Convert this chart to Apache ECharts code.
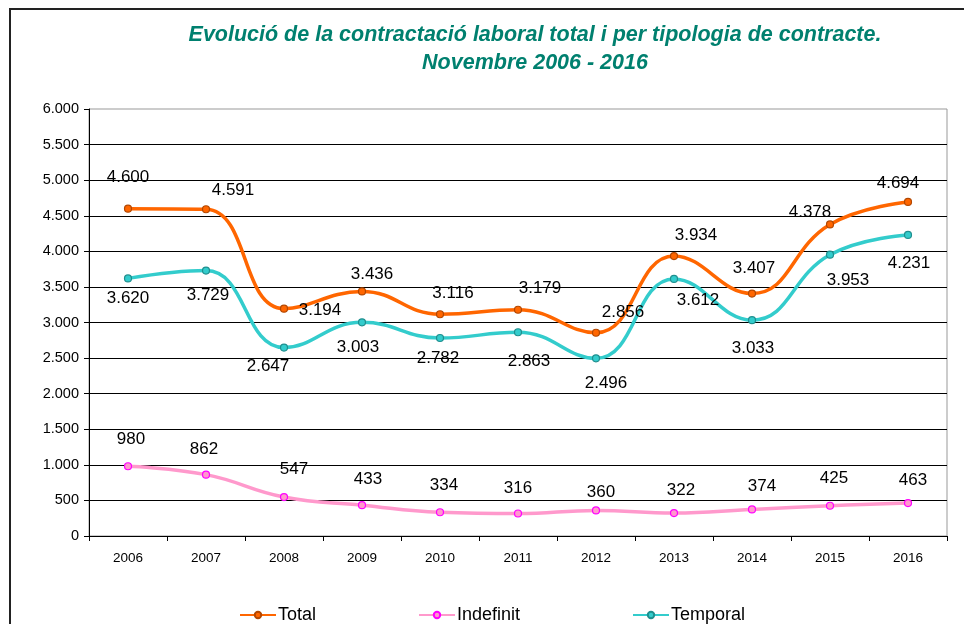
<!DOCTYPE html>
<html>
<head>
<meta charset="utf-8">
<script src="https://cdn.jsdelivr.net/npm/echarts@6/dist/echarts.min.js"></script>
<style>
html, body { margin: 0; padding: 0; background: #fff; }
#chart { width: 964px; height: 624px; }
</style>
</head>
<body>
<div id="chart"></div>
<script>
// anys (eix x)
var years = ['2006', '2007', '2008', '2009', '2010', '2011', '2012', '2013', '2014', '2015', '2016'];

// valors de cada serie
var total = [4600, 4591, 3194, 3436, 3116, 3179, 2856, 3934, 3407, 4378, 4694];
var indefinit = [980, 862, 547, 433, 334, 316, 360, 322, 374, 425, 463];
var temporal = [3620, 3729, 2647, 3003, 2782, 2863, 2496, 3612, 3033, 3953, 4231];

// desplacament de les etiquetes respecte al punt (com a l'Excel original)
var totalOff = [[0, -31], [27, -19], [36, 2], [10, -17], [13, -21], [22, -21], [27, -20], [22, -21], [2, -25], [-20, -12], [-10, -19]];
var indefOff = [[3, -27], [-2, -25], [10, -28], [6, -26], [4, -27], [0, -25], [5, -18], [7, -23], [10, -23], [4, -27], [5, -23]];
var tempOff = [[0, 20], [2, 25], [-16, 19], [-4, 25], [-2, 20], [11, 29], [10, 25], [24, 21], [1, 28], [18, 26], [1, 28]];

var FONT = 'Liberation Sans';

function fmt(v) {
        return String(v).replace(/\B(?=(\d{3})+(?!\d))/g, '.');
}

// munta els punts amb l'etiqueta desplaçada
function build(values, offs) {
        return values.map(function (v, i) {
                return { value: v, label: { offset: offs[i] } };
        });
}

function mkSeries(name, values, offs, color, border) {
        return {
                name: name,
                type: 'line',
                smooth: 0.45,
                data: build(values, offs),
                symbol: 'circle',
                symbolSize: 7,
                lineStyle: { color: color, width: 3.5 },
                itemStyle: { color: color, borderColor: border, borderWidth: 1.2 },
                label: {
                        show: true,
                        position: 'inside',
                        color: '#000',
                        fontSize: 17,
                        fontFamily: FONT,
                        formatter: function (p) { return fmt(p.value); }
                },
                emphasis: { disabled: true }
        };
}

function mkLegend(name, left) {
        return {
                data: [name],
                left: left,
                top: 601,
                itemWidth: 36,
                itemHeight: 8,
                textStyle: { fontSize: 18, color: '#000', fontFamily: FONT, padding: [0, 0, 0, -3] }
        };
}

var chart = echarts.init(document.getElementById('chart'));

var option = {
        backgroundColor: '#fff',
        animation: false,
        title: {
                text: 'Evolució de la contractació laboral total i per tipologia de contracte.\nNovembre 2006 - 2016',
                left: 530,
                top: 16,
                textAlign: 'center',
                textStyle: {
                        color: '#00806f',
                        fontSize: 21.5,
                        fontStyle: 'italic',
                        fontWeight: 'bold',
                        fontFamily: FONT,
                        lineHeight: 28
                }
        },
        graphic: [{
                type: 'rect',
                shape: { x: 10, y: 9, width: 1000, height: 1000 },
                style: { fill: 'none', stroke: '#222', lineWidth: 2 },
                silent: true
        }],
        legend: [
                mkLegend('Total', 234),
                mkLegend('Indefinit', 413),
                mkLegend('Temporal', 627)
        ],
        grid: {
                left: 89,
                right: 17,
                top: 109,
                bottom: 88,
                show: true,
                borderColor: '#999',
                borderWidth: 1,
                containLabel: false
        },
        xAxis: {
                type: 'category',
                data: years,
                boundaryGap: true,
                axisLine: { lineStyle: { color: '#000', width: 1 } },
                axisTick: { show: true, length: 5, lineStyle: { color: '#000' } },
                axisLabel: { color: '#000', fontSize: 13.5, fontFamily: FONT, margin: 15 }
        },
        yAxis: {
                type: 'value',
                min: 0,
                max: 6000,
                interval: 500,
                axisLine: { show: true, lineStyle: { color: '#000', width: 1 } },
                axisTick: { show: true, length: 5, lineStyle: { color: '#000' } },
                axisLabel: {
                        color: '#000',
                        fontSize: 14.5,
                        fontFamily: FONT,
                        margin: 10,
                        formatter: function (v) { return fmt(v); }
                },
                splitLine: { show: true, showMaxLine: false, lineStyle: { color: '#000', width: 1 } }
        },
        series: [
                mkSeries('Total', total, totalOff, '#ff6600', '#b34700'),
                mkSeries('Indefinit', indefinit, indefOff, '#ff99cc', '#ff00ff'),
                mkSeries('Temporal', temporal, tempOff, '#33cccc', '#1f8f8f')
        ]
};

chart.setOption(option);
</script>
</body>
</html>
